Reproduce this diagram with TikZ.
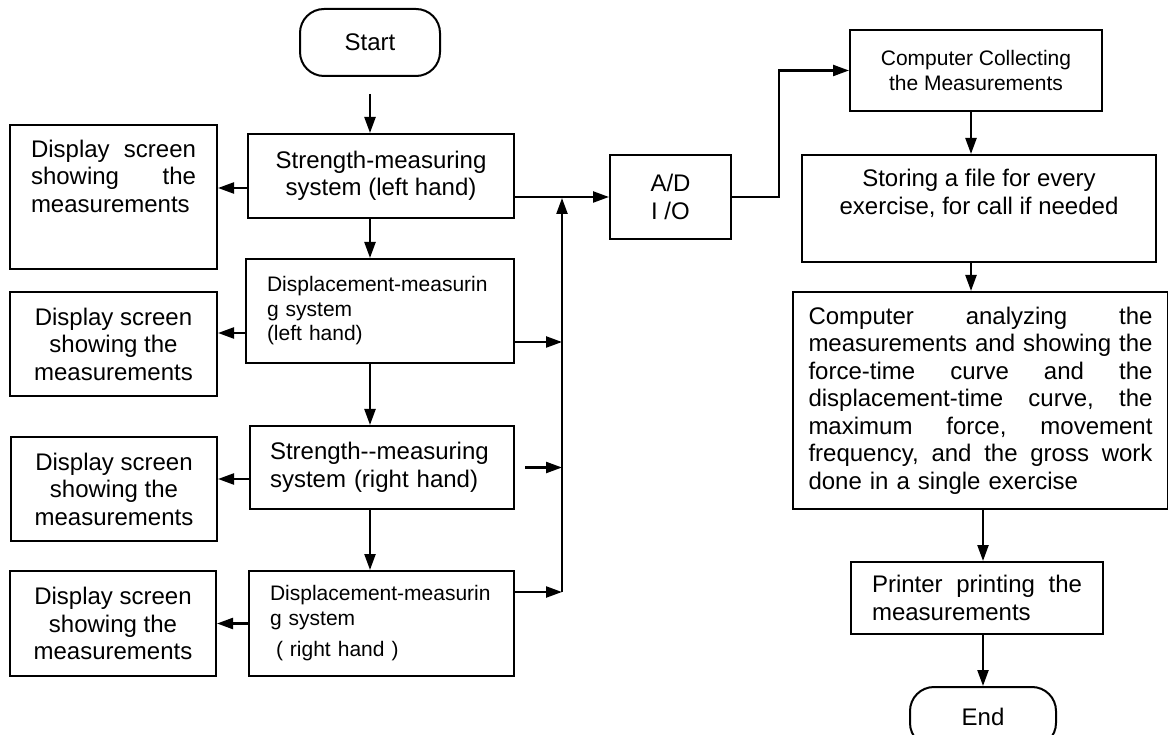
\documentclass[tikz,border=0pt]{standalone}
\usepackage{fontspec}
\setmainfont{Liberation Sans}
\usetikzlibrary{positioning,arrows.meta}
\newcommand{\bigtxt}{\fontsize{24}{27.5}\selectfont}
\newcommand{\midtxt}{\fontsize{21}{24.5}\selectfont}
\tikzset {
    style box/.style={
        draw=black,
        line width=2pt,
        rectangle, % Set the shape as a rectangle
        inner sep=0pt,
        align=center,
    },
    style term/.style={
        draw=black,
        line width=2pt,
        rectangle, % Set the shape as a rectangle
        rounded corners=24pt,
        inner sep=0pt,
        align=center,
    },
    style line/.style={
        draw=black,
        line width=2.3pt,
        -{Triangle[length=16pt,width=11pt]},
    },
}
\begin{document}
\begin{tikzpicture}
[x=1pt, y=-1pt, font=\bigtxt]
\useasboundingbox (0,0) rectangle (1168,735);
\clip (0,0) rectangle (1168,735);

% measuring systems
\node [style term, minimum width=140, minimum height=67] (start) at (370,42.5) {Start};
\node [style box, minimum width=266, minimum height=84] (strl) at (381,176)
  {Strength-measuring\\system (left hand)};
\node [style box, minimum width=268, minimum height=104, text width=226, align=left, font=\midtxt] (disl) at (380,311)
  {Displacement-measurin\\g system\\(left hand)};
\node [style box, minimum width=264, minimum height=83, text width=224, align=left] (strr) at (382,467.5)
  {Strength-{}-measuring\\system (right hand)};
\node [style box, minimum width=265, minimum height=105, text width=223, align=left, font=\midtxt] (disr) at (381.5,623.5)
  {Displacement-measurin\\g system\\[7pt]\hspace*{6pt}( right hand )};

% display screens
\node [style box, minimum width=207, minimum height=144] (scr1) at (113.5,197)
  {\parbox[c][114pt][t]{165pt}{Display\hfill screen\\showing\hfill the\\measurements}};
\node [style box, minimum width=207, minimum height=104] (scr2) at (113.5,344)
  {Display screen\\showing the\\measurements};
\node [style box, minimum width=206, minimum height=104] (scr3) at (114,489)
  {Display screen\\showing the\\measurements};
\node [style box, minimum width=206, minimum height=105] (scr4) at (113,623.5)
  {Display screen\\showing the\\measurements};

% computer side
\node [style box, minimum width=121, minimum height=84] (ad) at (670.5,197) {A/D\\I /O};
\node [style box, minimum width=252, minimum height=81, font=\midtxt] (comp) at (976,70.5)
  {Computer Collecting\\ the Measurements};
\node [style box, minimum width=354, minimum height=107] (store) at (979,208.5)
  {\parbox[c][78pt][t]{330pt}{\centering Storing a file for every\\exercise, for call if needed}};
\node [style box, minimum width=375, minimum height=217, text width=344, align=left] (ana) at (980.5,400.5)
  {Computer\hfill analyzing\hfill the\\
   measurements\hfill and\hfill showing\hfill the\\
   force-time\hfill curve\hfill and\hfill the\\
   displacement-time\hfill curve,\hfill the\\
   maximum\hfill force,\hfill movement\\
   frequency,\hfill and\hfill the\hfill gross\hfill work\\
   done in a single exercise};
\node [style box, minimum width=252, minimum height=72, text width=210, align=left] (prn) at (977,598)
  {Printer\hfill printing\hfill the\\measurements};
\node [style term, minimum width=146, minimum height=60] (end) at (983,717) {End};

\coordinate (bustop) at (562,197);

% down the left column
\draw [style line] ([yshift=-17pt]start.south) -- (start.south |- strl.north);
\draw [style line] (strl.south -| start) -- (disl.north -| start);
\draw [style line] (disl.south -| start) -- (strr.north -| start);
\draw [style line] (strr.south -| start) -- (disr.north -| start);

% to the screens
\draw [style line] ([yshift=-12pt]strl.west) -- ([yshift=-12pt]strl.west -| scr1.east);
\draw [style line] ([yshift=-22pt]disl.west) -- ([yshift=-22pt]disl.west -| scr2.east);
\draw [style line] ([yshift=-11.5pt]strr.west) -- ([yshift=-11.5pt]strr.west -| scr3.east);
\draw [style line] (disr.west) -- (disr.west -| scr4.east);

% to the converter
\draw [style line] (ad.west -| strl.east) -- (ad.west);
\draw [style line] ([yshift=-31pt]disl.east) -- ([yshift=-31pt]disl.east -| bustop);
\draw [style line] ([xshift=10pt]strr.east) -- (strr.east -| bustop);
\draw [style line] ([yshift=31.5pt]disr.east) -- ([yshift=31.5pt]disr.east -| bustop);
\draw [style line] ([yshift=31.5pt]disr.east -| bustop) -- ([yshift=-1pt]bustop);

% right column
\draw [style line] (ad.east) -- ++(47,0) |- (comp.west);
\draw [style line] ([xshift=-5pt]comp.south) -- ([xshift=-5pt]comp.south |- store.north);
\draw [style line] ([xshift=-8pt]store.south) -- ([xshift=-8pt]store.south |- ana.north);
\draw [style line] (end.north |- ana.south) -- (end.north |- prn.north);
\draw [style line] (end.north |- prn.south) -- (end.north);

\end{tikzpicture}
\end{document}
